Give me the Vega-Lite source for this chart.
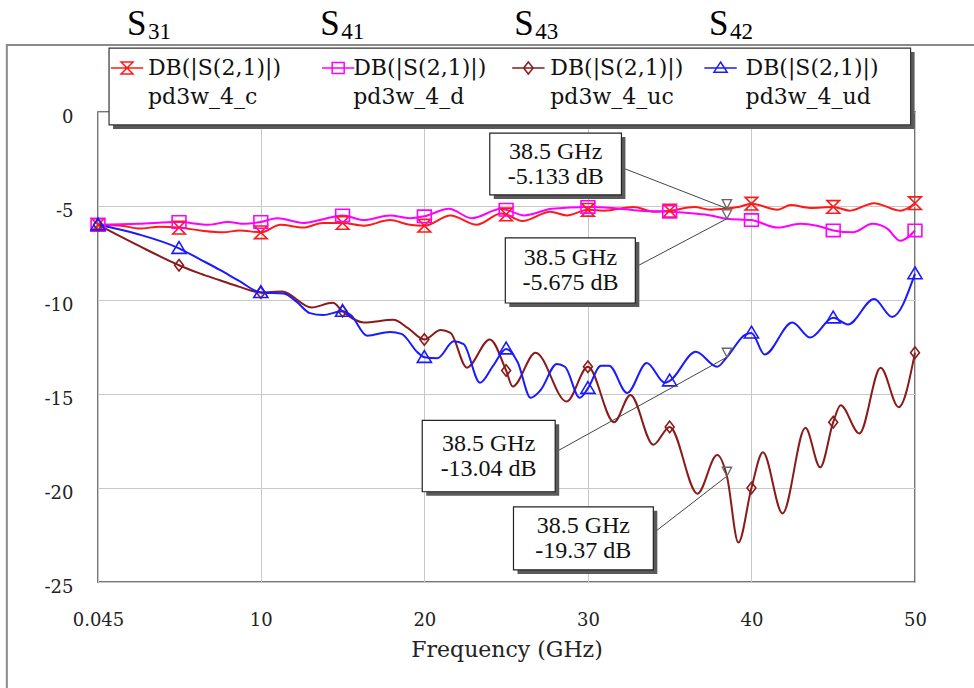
{
  "$schema": "https://vega.github.io/schema/vega-lite/v6.json",
  "width": 817,
  "height": 470,
  "autosize": {"type": "none"},
  "padding": {"left": 98, "top": 112, "right": 59, "bottom": 106},
  "background": "white",
  "config": {"view": {"stroke": "#4a4a4a", "strokeWidth": 1.5}},
  "datasets": {
    "curves": [
      {"s": "pd3w_4_c", "f": 0.045, "db": -6.0},
      {"s": "pd3w_4_c", "f": 1.5, "db": -6.05},
      {"s": "pd3w_4_c", "f": 2.6, "db": -6.2},
      {"s": "pd3w_4_c", "f": 3.8, "db": -6.1},
      {"s": "pd3w_4_c", "f": 5, "db": -6.15},
      {"s": "pd3w_4_c", "f": 6.3, "db": -6.3},
      {"s": "pd3w_4_c", "f": 7.7, "db": -6.4},
      {"s": "pd3w_4_c", "f": 8.7, "db": -6.3},
      {"s": "pd3w_4_c", "f": 10, "db": -6.4},
      {"s": "pd3w_4_c", "f": 11.2, "db": -6.0},
      {"s": "pd3w_4_c", "f": 12.6, "db": -6.15},
      {"s": "pd3w_4_c", "f": 13.8, "db": -5.9},
      {"s": "pd3w_4_c", "f": 15, "db": -5.9},
      {"s": "pd3w_4_c", "f": 16.3, "db": -6.05},
      {"s": "pd3w_4_c", "f": 17.9, "db": -5.75},
      {"s": "pd3w_4_c", "f": 19.1, "db": -6.0},
      {"s": "pd3w_4_c", "f": 20, "db": -6.05},
      {"s": "pd3w_4_c", "f": 21.6, "db": -5.5},
      {"s": "pd3w_4_c", "f": 23.2, "db": -6.0},
      {"s": "pd3w_4_c", "f": 24.7, "db": -5.4},
      {"s": "pd3w_4_c", "f": 25, "db": -5.45},
      {"s": "pd3w_4_c", "f": 26, "db": -5.8},
      {"s": "pd3w_4_c", "f": 27.7, "db": -5.3},
      {"s": "pd3w_4_c", "f": 28.7, "db": -5.5},
      {"s": "pd3w_4_c", "f": 30, "db": -5.2},
      {"s": "pd3w_4_c", "f": 31, "db": -5.25},
      {"s": "pd3w_4_c", "f": 32.8, "db": -5.05},
      {"s": "pd3w_4_c", "f": 34, "db": -5.3},
      {"s": "pd3w_4_c", "f": 35, "db": -5.25},
      {"s": "pd3w_4_c", "f": 36.5, "db": -5.05},
      {"s": "pd3w_4_c", "f": 37.5, "db": -5.2},
      {"s": "pd3w_4_c", "f": 38.5, "db": -5.133},
      {"s": "pd3w_4_c", "f": 39.2, "db": -5.05},
      {"s": "pd3w_4_c", "f": 40, "db": -4.88},
      {"s": "pd3w_4_c", "f": 41.6, "db": -5.2},
      {"s": "pd3w_4_c", "f": 42.4, "db": -4.95},
      {"s": "pd3w_4_c", "f": 43.6, "db": -5.1},
      {"s": "pd3w_4_c", "f": 45, "db": -5.05},
      {"s": "pd3w_4_c", "f": 46, "db": -5.25},
      {"s": "pd3w_4_c", "f": 47.5, "db": -4.85},
      {"s": "pd3w_4_c", "f": 49.1, "db": -5.25},
      {"s": "pd3w_4_c", "f": 50, "db": -4.85},

      {"s": "pd3w_4_d", "f": 0.045, "db": -6.0},
      {"s": "pd3w_4_d", "f": 2.5, "db": -5.95},
      {"s": "pd3w_4_d", "f": 5, "db": -5.85},
      {"s": "pd3w_4_d", "f": 6.8, "db": -6.0},
      {"s": "pd3w_4_d", "f": 8, "db": -5.85},
      {"s": "pd3w_4_d", "f": 9, "db": -5.95},
      {"s": "pd3w_4_d", "f": 10, "db": -5.85},
      {"s": "pd3w_4_d", "f": 11, "db": -5.65},
      {"s": "pd3w_4_d", "f": 12.6, "db": -5.9},
      {"s": "pd3w_4_d", "f": 13.6, "db": -5.75},
      {"s": "pd3w_4_d", "f": 15, "db": -5.5},
      {"s": "pd3w_4_d", "f": 16.3, "db": -5.75},
      {"s": "pd3w_4_d", "f": 17.9, "db": -5.5},
      {"s": "pd3w_4_d", "f": 19.1, "db": -5.65},
      {"s": "pd3w_4_d", "f": 20, "db": -5.55},
      {"s": "pd3w_4_d", "f": 21.5, "db": -5.15},
      {"s": "pd3w_4_d", "f": 22.9, "db": -5.65},
      {"s": "pd3w_4_d", "f": 24.7, "db": -5.15},
      {"s": "pd3w_4_d", "f": 25, "db": -5.2},
      {"s": "pd3w_4_d", "f": 26.1, "db": -5.5},
      {"s": "pd3w_4_d", "f": 27.8, "db": -5.15},
      {"s": "pd3w_4_d", "f": 30, "db": -5.05},
      {"s": "pd3w_4_d", "f": 31.5, "db": -5.1},
      {"s": "pd3w_4_d", "f": 33.2, "db": -5.25},
      {"s": "pd3w_4_d", "f": 35, "db": -5.3},
      {"s": "pd3w_4_d", "f": 36.5, "db": -5.4},
      {"s": "pd3w_4_d", "f": 37.5, "db": -5.5},
      {"s": "pd3w_4_d", "f": 38.5, "db": -5.675},
      {"s": "pd3w_4_d", "f": 40, "db": -5.75},
      {"s": "pd3w_4_d", "f": 41.6, "db": -6.15},
      {"s": "pd3w_4_d", "f": 43, "db": -5.95},
      {"s": "pd3w_4_d", "f": 44, "db": -6.05},
      {"s": "pd3w_4_d", "f": 45, "db": -6.3},
      {"s": "pd3w_4_d", "f": 46.2, "db": -6.4},
      {"s": "pd3w_4_d", "f": 47.4, "db": -5.95},
      {"s": "pd3w_4_d", "f": 48.3, "db": -6.2},
      {"s": "pd3w_4_d", "f": 49.1, "db": -6.85},
      {"s": "pd3w_4_d", "f": 50, "db": -6.3},

      {"s": "pd3w_4_uc", "f": 0.045, "db": -6.0},
      {"s": "pd3w_4_uc", "f": 2.5, "db": -7.1},
      {"s": "pd3w_4_uc", "f": 5, "db": -8.15},
      {"s": "pd3w_4_uc", "f": 6.3, "db": -8.6},
      {"s": "pd3w_4_uc", "f": 7.5, "db": -8.95},
      {"s": "pd3w_4_uc", "f": 8.7, "db": -9.3},
      {"s": "pd3w_4_uc", "f": 10, "db": -9.6},
      {"s": "pd3w_4_uc", "f": 11.3, "db": -9.55},
      {"s": "pd3w_4_uc", "f": 13.1, "db": -10.4},
      {"s": "pd3w_4_uc", "f": 14.4, "db": -10.15},
      {"s": "pd3w_4_uc", "f": 15, "db": -10.6},
      {"s": "pd3w_4_uc", "f": 16.3, "db": -11.2},
      {"s": "pd3w_4_uc", "f": 18.1, "db": -11.05},
      {"s": "pd3w_4_uc", "f": 19, "db": -11.5},
      {"s": "pd3w_4_uc", "f": 20, "db": -12.1},
      {"s": "pd3w_4_uc", "f": 21, "db": -11.6},
      {"s": "pd3w_4_uc", "f": 21.6, "db": -11.75},
      {"s": "pd3w_4_uc", "f": 22.6, "db": -13.6},
      {"s": "pd3w_4_uc", "f": 24, "db": -12.1},
      {"s": "pd3w_4_uc", "f": 25, "db": -13.75},
      {"s": "pd3w_4_uc", "f": 25.4, "db": -14.6},
      {"s": "pd3w_4_uc", "f": 26.8, "db": -12.8},
      {"s": "pd3w_4_uc", "f": 28.7, "db": -15.4},
      {"s": "pd3w_4_uc", "f": 30, "db": -13.55},
      {"s": "pd3w_4_uc", "f": 31.6, "db": -16.5},
      {"s": "pd3w_4_uc", "f": 32.6, "db": -15.05},
      {"s": "pd3w_4_uc", "f": 34, "db": -17.7},
      {"s": "pd3w_4_uc", "f": 35, "db": -16.75},
      {"s": "pd3w_4_uc", "f": 36.7, "db": -20.3},
      {"s": "pd3w_4_uc", "f": 37.9, "db": -18.25},
      {"s": "pd3w_4_uc", "f": 38.5, "db": -19.37},
      {"s": "pd3w_4_uc", "f": 39.2, "db": -22.9},
      {"s": "pd3w_4_uc", "f": 40, "db": -20.0},
      {"s": "pd3w_4_uc", "f": 40.7, "db": -18.1},
      {"s": "pd3w_4_uc", "f": 41.9, "db": -21.35},
      {"s": "pd3w_4_uc", "f": 43.3, "db": -16.8},
      {"s": "pd3w_4_uc", "f": 44.2, "db": -18.9},
      {"s": "pd3w_4_uc", "f": 45, "db": -16.5},
      {"s": "pd3w_4_uc", "f": 45.45, "db": -15.6},
      {"s": "pd3w_4_uc", "f": 46.6, "db": -17.1},
      {"s": "pd3w_4_uc", "f": 47.9, "db": -13.6},
      {"s": "pd3w_4_uc", "f": 49, "db": -15.7},
      {"s": "pd3w_4_uc", "f": 50, "db": -12.8},

      {"s": "pd3w_4_ud", "f": 0.045, "db": -6.0},
      {"s": "pd3w_4_ud", "f": 2.5, "db": -6.5},
      {"s": "pd3w_4_ud", "f": 5, "db": -7.25},
      {"s": "pd3w_4_ud", "f": 6.2, "db": -7.8},
      {"s": "pd3w_4_ud", "f": 7.5, "db": -8.4},
      {"s": "pd3w_4_ud", "f": 8.7, "db": -9.0},
      {"s": "pd3w_4_ud", "f": 10, "db": -9.6},
      {"s": "pd3w_4_ud", "f": 11.4, "db": -9.65},
      {"s": "pd3w_4_ud", "f": 12.2, "db": -10.1},
      {"s": "pd3w_4_ud", "f": 13, "db": -10.7},
      {"s": "pd3w_4_ud", "f": 13.8, "db": -10.8},
      {"s": "pd3w_4_ud", "f": 15, "db": -10.6},
      {"s": "pd3w_4_ud", "f": 15.5, "db": -10.8},
      {"s": "pd3w_4_ud", "f": 16.5, "db": -11.9},
      {"s": "pd3w_4_ud", "f": 17.9, "db": -11.7},
      {"s": "pd3w_4_ud", "f": 18.6, "db": -11.8},
      {"s": "pd3w_4_ud", "f": 19.6, "db": -12.8},
      {"s": "pd3w_4_ud", "f": 20, "db": -13.05},
      {"s": "pd3w_4_ud", "f": 20.8, "db": -13.1},
      {"s": "pd3w_4_ud", "f": 21.8, "db": -12.2},
      {"s": "pd3w_4_ud", "f": 22.4, "db": -12.35},
      {"s": "pd3w_4_ud", "f": 23.4, "db": -14.4},
      {"s": "pd3w_4_ud", "f": 24.2, "db": -13.5},
      {"s": "pd3w_4_ud", "f": 25, "db": -12.6},
      {"s": "pd3w_4_ud", "f": 25.7, "db": -13.3},
      {"s": "pd3w_4_ud", "f": 26.5, "db": -15.2},
      {"s": "pd3w_4_ud", "f": 27.1, "db": -14.8},
      {"s": "pd3w_4_ud", "f": 28.1, "db": -13.4},
      {"s": "pd3w_4_ud", "f": 28.6, "db": -13.55},
      {"s": "pd3w_4_ud", "f": 29.5, "db": -15.2},
      {"s": "pd3w_4_ud", "f": 30, "db": -14.7},
      {"s": "pd3w_4_ud", "f": 30.8, "db": -13.5},
      {"s": "pd3w_4_ud", "f": 31.3, "db": -13.5},
      {"s": "pd3w_4_ud", "f": 32.4, "db": -14.95},
      {"s": "pd3w_4_ud", "f": 33.6, "db": -13.35},
      {"s": "pd3w_4_ud", "f": 34.7, "db": -14.4},
      {"s": "pd3w_4_ud", "f": 35, "db": -14.3},
      {"s": "pd3w_4_ud", "f": 36.6, "db": -12.75},
      {"s": "pd3w_4_ud", "f": 37.9, "db": -13.55},
      {"s": "pd3w_4_ud", "f": 38.5, "db": -13.04},
      {"s": "pd3w_4_ud", "f": 39.6, "db": -11.85},
      {"s": "pd3w_4_ud", "f": 40, "db": -11.75},
      {"s": "pd3w_4_ud", "f": 40.8, "db": -12.9},
      {"s": "pd3w_4_ud", "f": 42.5, "db": -11.2},
      {"s": "pd3w_4_ud", "f": 43.6, "db": -12.0},
      {"s": "pd3w_4_ud", "f": 45, "db": -10.95},
      {"s": "pd3w_4_ud", "f": 45.9, "db": -11.3},
      {"s": "pd3w_4_ud", "f": 47.5, "db": -9.95},
      {"s": "pd3w_4_ud", "f": 48.6, "db": -10.9},
      {"s": "pd3w_4_ud", "f": 50, "db": -8.6}
    ],
    "annot": [
      {"f1": 24.0, "f2": 32.05, "d1": -1.12, "d2": -4.41, "tf": 28.03, "td": -2.77, "lf": 32.05, "ld": -2.95, "mf": 38.5, "md": -5.133, "txt": "38.5 GHz\n-5.133 dB"},
      {"f1": 24.95, "f2": 32.9, "d1": -6.7, "d2": -10.16, "tf": 28.93, "td": -8.43, "lf": 32.9, "ld": -8.25, "mf": 38.5, "md": -5.675, "txt": "38.5 GHz\n-5.675 dB"},
      {"f1": 19.87, "f2": 28.0, "d1": -16.4, "d2": -20.2, "tf": 23.93, "td": -18.3, "lf": 28.0, "ld": -18.1, "mf": 38.5, "md": -13.04, "txt": "38.5 GHz\n-13.04 dB"},
      {"f1": 25.45, "f2": 34.0, "d1": -21.0, "d2": -24.36, "tf": 29.72, "td": -22.68, "lf": 34.0, "ld": -22.4, "mf": 38.5, "md": -19.37, "txt": "38.5 GHz\n-19.37 dB"}
    ],
    "legendbox": [{"f1": 0.72, "f2": 49.73, "d1": 3.4, "d2": -0.69}],
    "legend": [
      {"s": "pd3w_4_c", "f": 1.82, "d": 2.34, "tf": 3.1, "td": 1.6, "label": "DB(|S(2,1)|)\npd3w_4_c"},
      {"s": "pd3w_4_d", "f": 14.73, "d": 2.34, "tf": 15.65, "td": 1.6, "label": "DB(|S(2,1)|)\npd3w_4_d"},
      {"s": "pd3w_4_uc", "f": 26.36, "d": 2.34, "tf": 27.7, "td": 1.6, "label": "DB(|S(2,1)|)\npd3w_4_uc"},
      {"s": "pd3w_4_ud", "f": 38.11, "d": 2.34, "tf": 39.64, "td": 1.6, "label": "DB(|S(2,1)|)\npd3w_4_ud"}
    ],
    "frame": [{"f1": -5.53, "f2": 57, "d1": 3.56, "d2": -32}],
    "slabels": [
      {"f": 1.82, "d": 4.1, "main": "S", "sub": "31"},
      {"f": 13.63, "d": 4.1, "main": "S", "sub": "41"},
      {"f": 25.5, "d": 4.1, "main": "S", "sub": "43"},
      {"f": 37.4, "d": 4.1, "main": "S", "sub": "42"}
    ]
  },
  "layer": [
    {
      "data": {"name": "curves"},
      "mark": {"type": "line", "interpolate": "monotone", "strokeWidth": 2},
      "encoding": {
        "x": {
          "field": "f", "type": "quantitative",
          "scale": {"domain": [0.045, 50], "nice": false, "zero": false},
          "axis": {
            "values": [0.045, 10, 20, 30, 40, 50], "title": "Frequency (GHz)",
            "labelExpr": "toString(datum.value)",
            "grid": true, "gridColor": "#c8c8c8", "gridWidth": 1, "ticks": false, "domain": false,
            "labelFlush": false, "labelOverlap": false, "labelPadding": 29,
            "labelFont": "DejaVu Serif", "labelFontSize": 18, "labelColor": "#222",
            "titleFont": "DejaVu Serif", "titleFontSize": 22, "titleFontWeight": "normal", "titleColor": "#222", "titlePadding": 10
          }
        },
        "y": {
          "field": "db", "type": "quantitative",
          "scale": {"domain": [-25, 0], "nice": false, "zero": false},
          "axis": {
            "values": [0, -5, -10, -15, -20, -25], "title": null,
            "labelExpr": "toString(datum.value)",
            "grid": true, "gridColor": "#c8c8c8", "gridWidth": 1, "ticks": false, "domain": false,
            "labelFlush": false, "labelOverlap": false, "labelPadding": 25, "labelOffset": 5,
            "labelFont": "DejaVu Serif", "labelFontSize": 18, "labelColor": "#222"
          }
        },
        "color": {
          "field": "s", "type": "nominal",
          "scale": {"domain": ["pd3w_4_c", "pd3w_4_d", "pd3w_4_uc", "pd3w_4_ud"], "range": ["#ff1a1a", "#ff00ff", "#8b1a1a", "#1a1aff"]},
          "legend": null
        }
      }
    },
    {
      "data": {"name": "frame"},
      "mark": {"type": "rect", "fillOpacity": 0, "stroke": "#8a8a8a", "strokeWidth": 2},
      "encoding": {
        "x": {"field": "f1", "type": "quantitative"},
        "x2": {"field": "f2"},
        "y": {"field": "d1", "type": "quantitative"},
        "y2": {"field": "d2"}
      }
    },
    {
      "data": {"name": "curves"},
      "transform": [{"filter": "datum.s == 'pd3w_4_c' && indexof([0.045,5,10,15,20,25,30,35,40,45,50], datum.f) >= 0"}],
      "mark": {"type": "point", "shape": "M-1,-1L1,-1L-1,1L1,1Z", "size": 160, "filled": false, "strokeWidth": 1.6, "opacity": 1},
      "encoding": {
        "x": {"field": "f", "type": "quantitative"},
        "y": {"field": "db", "type": "quantitative"},
        "color": {"field": "s", "type": "nominal", "legend": null}
      }
    },
    {
      "data": {"name": "curves"},
      "transform": [{"filter": "datum.s == 'pd3w_4_d' && indexof([0.045,5,10,15,20,25,30,35,40,45,50], datum.f) >= 0"}],
      "mark": {"type": "point", "shape": "M-1,-0.9H1V0.9H-1Z", "size": 190, "filled": false, "strokeWidth": 1.6, "opacity": 1},
      "encoding": {
        "x": {"field": "f", "type": "quantitative"},
        "y": {"field": "db", "type": "quantitative"},
        "color": {"field": "s", "type": "nominal", "legend": null}
      }
    },
    {
      "data": {"name": "curves"},
      "transform": [{"filter": "datum.s == 'pd3w_4_uc' && indexof([0.045,5,10,15,20,25,30,35,40,45,50], datum.f) >= 0"}],
      "mark": {"type": "point", "shape": "M0,-1.1L0.85,0L0,1.1L-0.85,0Z", "size": 110, "filled": false, "strokeWidth": 1.6, "opacity": 1},
      "encoding": {
        "x": {"field": "f", "type": "quantitative"},
        "y": {"field": "db", "type": "quantitative"},
        "color": {"field": "s", "type": "nominal", "legend": null}
      }
    },
    {
      "data": {"name": "curves"},
      "transform": [{"filter": "datum.s == 'pd3w_4_ud' && indexof([0.045,5,10,15,20,25,30,35,40,45,50], datum.f) >= 0"}],
      "mark": {"type": "point", "shape": "M0,-1L1.05,0.75H-1.05Z", "size": 180, "filled": false, "strokeWidth": 1.6, "opacity": 1},
      "encoding": {
        "x": {"field": "f", "type": "quantitative"},
        "y": {"field": "db", "type": "quantitative"},
        "color": {"field": "s", "type": "nominal", "legend": null}
      }
    },
    {
      "data": {"name": "annot"},
      "mark": {"type": "rule", "color": "#444", "strokeWidth": 1},
      "encoding": {
        "x": {"field": "lf", "type": "quantitative"},
        "y": {"field": "ld", "type": "quantitative"},
        "x2": {"field": "mf"},
        "y2": {"field": "md"}
      }
    },
    {
      "data": {"name": "annot"},
      "mark": {"type": "point", "shape": "M-0.9,-1.7L0.9,-1.7L0,0Z", "size": 110, "filled": false, "stroke": "#666", "strokeWidth": 1.3, "opacity": 1},
      "encoding": {
        "x": {"field": "mf", "type": "quantitative"},
        "y": {"field": "md", "type": "quantitative"}
      }
    },
    {
      "data": {"name": "annot"},
      "mark": {"type": "rect", "fill": "#5a5a5a", "xOffset": 4, "x2Offset": 4, "yOffset": 4, "y2Offset": 4},
      "encoding": {
        "x": {"field": "f1", "type": "quantitative"},
        "x2": {"field": "f2"},
        "y": {"field": "d1", "type": "quantitative"},
        "y2": {"field": "d2"}
      }
    },
    {
      "data": {"name": "annot"},
      "mark": {"type": "rect", "fill": "white", "stroke": "#222", "strokeWidth": 1.2},
      "encoding": {
        "x": {"field": "f1", "type": "quantitative"},
        "x2": {"field": "f2"},
        "y": {"field": "d1", "type": "quantitative"},
        "y2": {"field": "d2"}
      }
    },
    {
      "data": {"name": "annot"},
      "mark": {"type": "text", "font": "Liberation Serif", "fontSize": 24, "lineHeight": 25, "lineBreak": "\n", "align": "center", "baseline": "middle", "dy": -12, "color": "#111"},
      "encoding": {
        "x": {"field": "tf", "type": "quantitative"},
        "y": {"field": "td", "type": "quantitative"},
        "text": {"field": "txt"}
      }
    },
    {
      "data": {"name": "legendbox"},
      "mark": {"type": "rect", "fill": "#5a5a5a", "xOffset": 4, "x2Offset": 4, "yOffset": 4, "y2Offset": 4},
      "encoding": {
        "x": {"field": "f1", "type": "quantitative"},
        "x2": {"field": "f2"},
        "y": {"field": "d1", "type": "quantitative"},
        "y2": {"field": "d2"}
      }
    },
    {
      "data": {"name": "legendbox"},
      "mark": {"type": "rect", "fill": "white", "stroke": "#333", "strokeWidth": 1.2},
      "encoding": {
        "x": {"field": "f1", "type": "quantitative"},
        "x2": {"field": "f2"},
        "y": {"field": "d1", "type": "quantitative"},
        "y2": {"field": "d2"}
      }
    },
    {
      "data": {"name": "legend"},
      "mark": {"type": "point", "filled": false, "strokeWidth": 1.5, "size": 144, "opacity": 1},
      "encoding": {
        "x": {"field": "f", "type": "quantitative"},
        "y": {"field": "d", "type": "quantitative"},
        "color": {"field": "s", "type": "nominal", "legend": null},
        "shape": {
          "field": "s", "type": "nominal", "legend": null,
          "scale": {
            "domain": ["pd3w_4_c", "pd3w_4_d", "pd3w_4_uc", "pd3w_4_ud"],
            "range": [
              "M-2.7,0H2.7M-1,-1L1,-1L-1,1L1,1Z",
              "M-2.7,0H2.7M-1,-0.9H1V0.9H-1Z",
              "M-2.7,0H2.7M0,-1L0.8,0L0,1L-0.8,0Z",
              "M-2.7,0H2.7M0,-1L1.1,0.7H-1.1Z"
            ]
          }
        }
      }
    },
    {
      "data": {"name": "legend"},
      "mark": {"type": "text", "font": "DejaVu Serif", "fontSize": 22, "lineHeight": 29, "lineBreak": "\n", "align": "left", "baseline": "middle", "dy": -14, "color": "#111"},
      "encoding": {
        "x": {"field": "tf", "type": "quantitative"},
        "y": {"field": "td", "type": "quantitative"},
        "text": {"field": "label"}
      }
    },
    {
      "data": {"name": "slabels"},
      "mark": {"type": "text", "font": "Liberation Serif", "fontSize": 35, "align": "left", "baseline": "alphabetic", "color": "#000"},
      "encoding": {
        "x": {"field": "f", "type": "quantitative"},
        "y": {"field": "d", "type": "quantitative"},
        "text": {"field": "main"}
      }
    },
    {
      "data": {"name": "slabels"},
      "mark": {"type": "text", "font": "Liberation Serif", "fontSize": 23, "align": "left", "baseline": "alphabetic", "dx": 21, "dy": 4, "color": "#000"},
      "encoding": {
        "x": {"field": "f", "type": "quantitative"},
        "y": {"field": "d", "type": "quantitative"},
        "text": {"field": "sub"}
      }
    }
  ]
}
